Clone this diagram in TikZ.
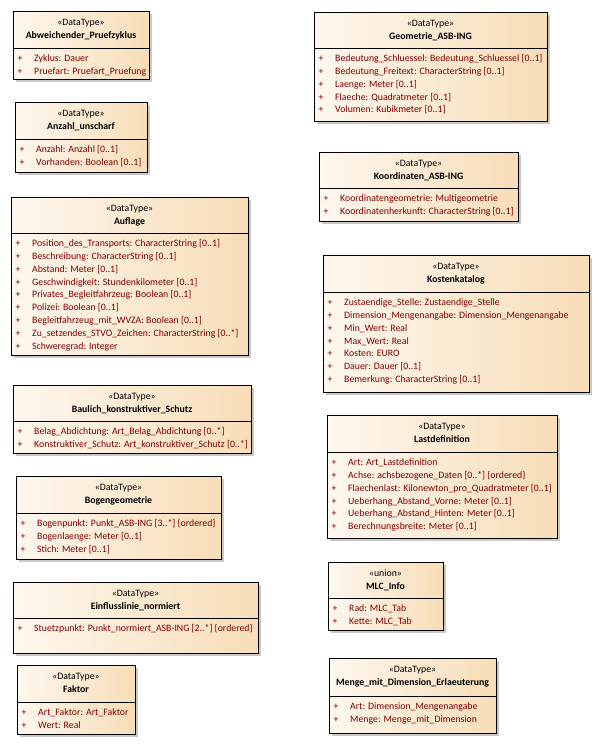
\documentclass[tikz,border=0pt]{standalone}
\usepackage{fontspec}
\setmainfont{Carlito}
\definecolor{fillL}{RGB}{253,247,238}
\definecolor{fillR}{RGB}{247,221,183}
\definecolor{attrc}{RGB}{128,0,0}
\definecolor{shad}{RGB}{200,200,200}
\tikzset{
  umlbox/.style={draw=black, line width=0.9pt, left color=fillL, right color=fillR, inner sep=0pt, anchor=north west},
  divline/.style={draw=black, line width=0.9pt},
  stereo/.style={font=\fontsize{9.8}{11}\selectfont, anchor=mid, inner sep=0pt},
  boxtitle/.style={font=\fontsize{9.8}{11}\selectfont\bfseries, anchor=mid, inner sep=0pt},
  plussign/.style={font=\fontsize{9.8}{11}\selectfont, text=attrc, anchor=mid, inner sep=0pt},
  attr/.style={font=\fontsize{9.8}{11}\selectfont, text=attrc, anchor=mid west, inner sep=0pt},
}
\newcommand\dtbox[9]{%
  \fill[shad] ({#2+3},{#3+3}) rectangle ({#4+3},{#5+3});
  \node[umlbox, minimum width={(#4-#2)*1pt}, minimum height={(#5-#3)*1pt}] (#1) at (#2,#3) {};
  \draw[divline] (#2,#6) -- (#4,#6);
  \node[stereo] (#1-st) at ({(#2+#4)/2},{#3+12}) {«#7»};
  \node[boxtitle] (#1-ti) at ({(#2+#4)/2},{#3+25}) {#8};
  \foreach \txt [count=\i] in {#9} {
    \node[plussign] (#1-p\i) at ({#2+7},{#6+11+12.9*(\i-1)}) {+};
    \node[attr] (#1-a\i) at ({#2+21},{#6+11+12.9*(\i-1)}) {\txt};
  }%
}
\begin{document}
\begin{tikzpicture}[x=1pt,y=-1pt]
\useasboundingbox[fill=white] (0,0) rectangle (599,745);
\dtbox{abw}{13}{11}{149}{79}{48}{DataType}{Abweichender\_Pruefzyklus}{{Zyklus: Dauer},{Pruefart: Pruefart\_Pruefung}}
\dtbox{anz}{15}{102}{147}{172}{139}{DataType}{Anzahl\_unscharf}{{Anzahl: Anzahl [0..1]},{Vorhanden: Boolean [0..1]}}
\dtbox{auf}{11}{197}{248}{355}{233}{DataType}{Auflage}{{Position\_des\_Transports: CharacterString [0..1]},{Beschreibung: CharacterString [0..1]},{Abstand: Meter [0..1]},{Geschwindigkeit: Stundenkilometer [0..1]},{Privates\_Begleitfahrzeug: Boolean [0..1]},{Polizei: Boolean [0..1]},{Begleitfahrzeug\_mit\_WVZA: Boolean [0..1]},{Zu\_setzendes\_STVO\_Zeichen: CharacterString [0..*]},{Schweregrad: Integer}}
\dtbox{bau}{13}{385}{251}{453}{421}{DataType}{Baulich\_konstruktiver\_Schutz}{{Belag\_Abdichtung: Art\_Belag\_Abdichtung [0..*]},{Konstruktiver\_Schutz: Art\_konstruktiver\_Schutz [0..*]}}
\dtbox{bog}{16}{476}{221}{559}{513}{DataType}{Bogengeometrie}{{Bogenpunkt: Punkt\_ASB-ING [3..*] \{ordered\}},{Bogenlaenge: Meter [0..1]},{Stich: Meter [0..1]}}
\dtbox{ein}{13}{582}{258}{653}{618}{DataType}{Einflusslinie\_normiert}{{Stuetzpunkt: Punkt\_normiert\_ASB-ING [2..*] \{ordered\}}}
\dtbox{fak}{17}{665}{135}{734}{702}{DataType}{Faktor}{{Art\_Faktor: Art\_Faktor},{Wert: Real}}
\dtbox{geo}{314}{12}{547}{121}{48}{DataType}{Geometrie\_ASB-ING}{{Bedeutung\_Schluessel: Bedeutung\_Schluessel [0..1]},{Bedeutung\_Freitext: CharacterString [0..1]},{Laenge: Meter [0..1]},{Flaeche: Quadratmeter [0..1]},{Volumen: Kubikmeter [0..1]}}
\dtbox{koo}{319}{152}{518}{221}{188}{DataType}{Koordinaten\_ASB-ING}{{Koordinatengeometrie: Multigeometrie},{Koordinatenherkunft: CharacterString [0..1]}}
\dtbox{kos}{323}{255}{589}{392}{292}{DataType}{Kostenkatalog}{{Zustaendige\_Stelle: Zustaendige\_Stelle},{Dimension\_Mengenangabe: Dimension\_Mengenangabe},{Min\_Wert: Real},{Max\_Wert: Real},{Kosten: EURO},{Dauer: Dauer [0..1]},{Bemerkung: CharacterString [0..1]}}
\dtbox{las}{327}{415}{557}{538}{452}{DataType}{Lastdefinition}{{Art: Art\_Lastdefinition},{Achse: achsbezogene\_Daten [0..*] \{ordered\}},{Flaechenlast: Kilonewton\_pro\_Quadratmeter [0..1]},{Ueberhang\_Abstand\_Vorne: Meter [0..1]},{Ueberhang\_Abstand\_Hinten: Meter [0..1]},{Berechnungsbreite: Meter [0..1]}}
\dtbox{mlc}{328}{562}{443}{630}{598}{union}{MLC\_Info}{{Rad: MLC\_Tab},{Kette: MLC\_Tab}}
\dtbox{men}{329}{658}{496}{733}{696}{DataType}{Menge\_mit\_Dimension\_Erlaeuterung}{{Art: Dimension\_Mengenangabe},{Menge: Menge\_mit\_Dimension}}
\end{tikzpicture}
\end{document}
